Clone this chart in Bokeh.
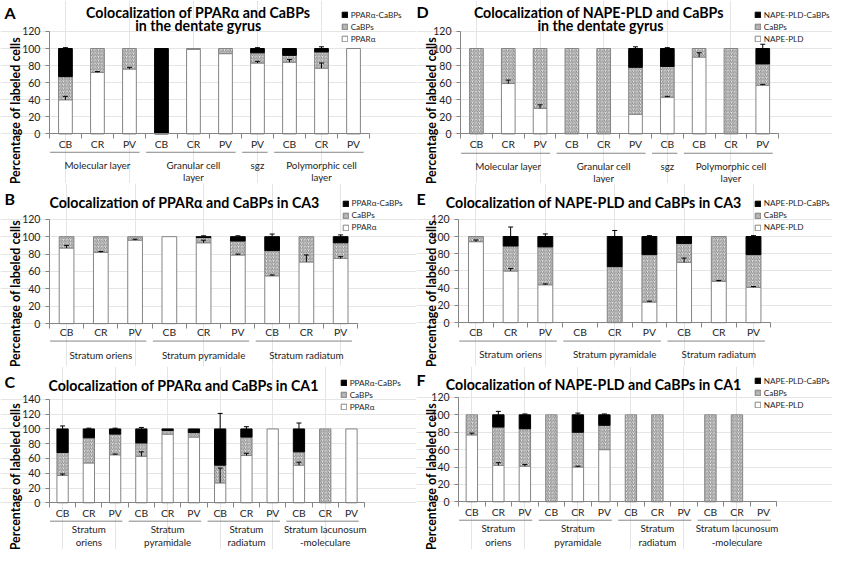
import numpy as np
from bokeh.plotting import figure
from bokeh.models import (Range1d, LinearAxis, FixedTicker, ColumnDataSource, Whisker,
                          TeeHead, Legend, LegendItem, CDSView, BooleanFilter)
from bokeh.layouts import column, row
from bokeh.embed import file_html
from bokeh.resources import INLINE
from bokeh.core.properties import value

# ---------------- data ----------------
DG_groups = ["Molecular layer", "Granular cell\nlayer", "sgz", "Polymorphic cell\nlayer"]
DG_sizes = [3, 3, 1, 3]
CA3_groups = ["Stratum oriens", "Stratum pyramidale", "Stratum radiatum"]
CA3_sizes = [3, 3, 3]
CA1_groups = ["Stratum\noriens", "Stratum\npyramidale", "Stratum\nradiatum", "Stratum lacunosum\n-moleculare"]
CA1_sizes = [3, 3, 3, 3]

PPAR_labels = ["PPARα-CaBPs", "CaBPs", "PPARα"]
NAPE_labels = ["NAPE-PLD-CaBPs", "CaBPs", "NAPE-PLD"]

A_cats = ["CB", "CR", "PV", "CB", "CR", "PV", "PV", "CB", "CR", "PV"]
A_white = [40, 72, 76, 0, 99, 94, 83, 84, 77, 100]
A_cabp = [27, 28, 24, 0, 1, 6, 12, 8, 19, 0]
A_coloc = [33, 0, 0, 100, 0, 0, 5, 8, 4, 0]
A_err_white = [4, 1, 2, 0, 0, 0, 2, 3, 6, 0]
A_err_cabp = [5, 0, 0, 0, 0, 0, 1, 4, 0, 0]
A_err_coloc = [1, 0, 0, 0, 0, 0, 1, 0, 2, 0]

B_cats = ["CB", "CR", "PV", "CB", "CR", "PV", "CB", "CR", "PV"]
B_white = [87, 82, 96, 100, 93, 79, 55, 71, 75]
B_cabp = [13, 18, 4, 0, 6, 16, 29, 29, 18]
B_coloc = [0, 0, 0, 0, 1, 5, 16, 0, 7]
B_err_white = [3, 1, 1, 0, 3, 1, 1, 8, 2]
B_err_cabp = [0, 0, 0, 0, 0, 0, 5, 0, 0]
B_err_coloc = [0, 0, 0, 0, 1, 1, 3, 0, 2]

C_cats = ["CB", "CR", "PV", "CB", "CR", "PV", "CB", "CR", "PV", "CB", "CR", "PV"]
C_white = [37, 54, 65, 63, 93, 89, 27, 64, 100, 51, 0, 100]
C_cabp = [31, 34, 28, 18, 5, 6, 24, 25, 0, 18, 100, 0]
C_coloc = [32, 12, 7, 19, 2, 5, 49, 11, 0, 31, 0, 0]
C_err_white = [2, 0, 1, 6, 0, 0, 20, 3, 0, 4, 0, 0]
C_err_cabp = [4, 2, 3, 8, 1, 1, 3, 1, 0, 5, 0, 0]
C_err_coloc = [4, 1, 1, 2, 0, 0, 21, 3, 0, 8, 0, 0]

D_cats = ["CB", "CR", "PV", "CB", "CR", "PV", "CB", "CB", "CR", "PV"]
D_white = [0, 59, 30, 0, 0, 23, 43, 90, 0, 57]
D_cabp = [100, 41, 70, 100, 100, 55, 36, 10, 100, 25]
D_coloc = [0, 0, 0, 0, 0, 22, 21, 0, 0, 18]
D_err_white = [0, 4, 4, 0, 0, 0, 1, 5, 0, 1]
D_err_cabp = [0, 0, 0, 0, 0, 3, 2, 0, 0, 4]
D_err_coloc = [0, 0, 0, 0, 0, 2, 1, 0, 0, 5]

E_cats = ["CB", "CR", "PV", "CB", "CR", "PV", "CB", "CR", "PV"]
E_white = [94, 60, 44, 0, 0, 24, 70, 48, 41]
E_cabp = [6, 29, 44, 0, 65, 55, 22, 52, 38]
E_coloc = [0, 11, 12, 0, 35, 21, 8, 0, 21]
E_err_white = [2, 3, 1, 0, 0, 1, 5, 1, 1]
E_err_cabp = [0, 8, 1, 0, 4, 2, 5, 0, 3]
E_err_coloc = [0, 11, 3, 0, 7, 1, 0, 0, 1]

F_cats = ["CB", "CR", "PV", "CB", "CR", "PV", "CB", "CR", "PV", "CB", "CR", "PV"]
F_white = [77, 42, 41, 0, 40, 60, 0, 0, 0, 0, 0, 0]
F_cabp = [23, 44, 43, 100, 40, 28, 100, 100, 0, 100, 100, 0]
F_coloc = [0, 14, 16, 0, 20, 12, 0, 0, 0, 0, 0, 0]
F_err_white = [2, 3, 2, 0, 1, 0, 0, 0, 0, 0, 0, 0]
F_err_cabp = [0, 1, 1, 0, 4, 1, 0, 0, 0, 0, 0, 0]
F_err_coloc = [0, 4, 1, 0, 2, 1, 0, 0, 0, 0, 0, 0]

# ---------------- style / layout ----------------
W, H = 416, 183
SX = W / 425.0
SY = H / 189.3
FONT = "Lato"
GRAY = "#858585"
TXT = "#1e1e1e"


def make_panel(letter, title, spec, cats, groups, sizes, white, cabp, coloc,
               ew, ec, eb, labels):
    n = len(cats)
    ax0 = spec["ax0"] * SX
    ax1 = spec["ax1"] * SX
    sxu = (ax1 - ax0) / n
    x0 = -0.5 - ax0 / sxu
    x1 = x0 + W / sxu
    top = spec["top"] * SY
    zero = spec["zero"] * SY
    ymax = spec["ymax"]
    syu = (zero - top) / ymax
    y1 = ymax + top / syu
    y0 = y1 - H / syu

    def fx(px):
        return x0 + px * SX / sxu

    def fy(py):
        return y1 - py * SY / syu

    p = figure(width=W, height=H, x_range=Range1d(x0, x1), y_range=Range1d(y0, y1),
               toolbar_location=None, output_backend="svg",
               x_axis_location=None, y_axis_location=None,
               min_border=0, outline_line_color=None)
    p.title.visible = False

    x = np.arange(n)
    w = np.array(white, float)
    c = np.array(cabp, float)
    b = np.array(coloc, float)
    src = ColumnDataSource(dict(x=x, z=np.zeros(n), w1=w, c1=w + c, b1=w + c + b))
    bw = 0.43
    r_white = p.vbar(x="x", bottom="z", top="w1", width=bw, source=src,
                     view=CDSView(filter=BooleanFilter(list(w > 0))),
                     fill_color="white", line_color=GRAY, line_width=1)
    r_cabp = p.vbar(x="x", bottom="w1", top="c1", width=bw, source=src,
                    view=CDSView(filter=BooleanFilter(list(c > 0))),
                    fill_color="#e6e6e6", line_color=GRAY, line_width=1,
                    hatch_pattern="right_diagonal_line", hatch_color="#808080",
                    hatch_scale=3.5, hatch_weight=0.9)
    r_coloc = p.vbar(x="x", bottom="c1", top="b1", width=bw, source=src,
                     view=CDSView(filter=BooleanFilter(list(b > 0))),
                     fill_color="black", line_color="black", line_width=1)

    # error bars (upper only)
    ex, elo, ehi = [], [], []
    for tops, errs in ((w, ew), (w + c, ec), (w + c + b, eb)):
        for i in range(n):
            if errs[i] > 0:
                ex.append(i)
                elo.append(tops[i])
                ehi.append(tops[i] + errs[i])
    esrc = ColumnDataSource(dict(x=ex, lo=elo, hi=ehi))
    p.add_layout(Whisker(source=esrc, base="x", lower="lo", upper="hi",
                         dimension="height", line_color="black", line_width=1,
                         lower_head=None, level="overlay",
                         upper_head=TeeHead(size=5, line_color="black", line_width=1)))

    # axes
    yax = LinearAxis(fixed_location=-0.5, bounds=(0, ymax),
                     ticker=FixedTicker(ticks=list(range(0, ymax + 1, 20))),
                     axis_line_color=GRAY, major_tick_line_color=GRAY,
                     major_tick_out=4, major_tick_in=0, minor_tick_line_color=None,
                     major_label_standoff=5,
                     major_label_text_font=FONT, major_label_text_font_size="10.5px",
                     major_label_text_color=TXT)
    p.add_layout(yax, "left")
    # category boundaries drawn as (label-less) minor ticks
    xax = LinearAxis(fixed_location=0, bounds=(-0.5, n - 0.5),
                     ticker=FixedTicker(ticks=[], minor_ticks=list(np.arange(n + 1) - 0.5)),
                     axis_line_color=GRAY, major_tick_line_color=None,
                     minor_tick_out=5, minor_tick_in=0, minor_tick_line_color=GRAY)
    p.add_layout(xax, "below")

    # category labels
    p.text(x=list(x), y=[fy(spec["cat"] - 2)] * n, text=cats,
           text_font=value(FONT), text_font_size="10.3px", text_color=TXT,
           text_align="center", text_baseline="middle")

    # group separators and labels (one text per line)
    sz = np.array(sizes)
    starts = np.cumsum(sz) - sz
    gap = 6 * SX / sxu
    ys = fy(spec["sep"])
    p.segment(x0=list(starts - 0.5 + 0.02), y0=[ys] * len(sz),
              x1=list(starts + sz - 0.5 - gap), y1=[ys] * len(sz),
              line_color=GRAY, line_width=1)
    gx, gy, gt = [], [], []
    for k, g in enumerate(groups):
        for j, line in enumerate(g.split("\n")):
            gx.append(starts[k] + (sz[k] - 1) / 2.0)
            gy.append(fy(spec["g1"] + j * spec["gdy"]))
            gt.append(line)
    p.text(x=gx, y=gy, text=gt,
           text_font=value(FONT), text_font_size="9.8px", text_color=TXT,
           text_align="center", text_baseline="middle")

    # title (one text per line), letter, y label
    tl = title.split("\n")
    p.text(x=[fx(spec["tcx"])] * len(tl), y=[fy(spec["tcy"] + j * 13.5) for j in range(len(tl))],
           text=tl, text_font=value(FONT), text_font_size="14.2px", text_font_style="bold",
           text_color="black", text_align="center", text_baseline="middle")
    p.text(x=[fx(spec["lx"])], y=[fy(spec["ly"])], text=[letter],
           text_font=value(FONT), text_font_size="16px", text_font_style="bold",
           text_color="black", text_align="left", text_baseline="middle")
    p.text(x=[fx(15)], y=[fy(114)], text=["Percentage of labeled cells"], angle=np.pi / 2,
           text_font=value(FONT), text_font_size="12.5px", text_font_style="bold",
           text_color="black", text_align="center", text_baseline="middle")

    # legend
    leg_h = 3 * 11 + 2 * 1
    legend = Legend(items=[LegendItem(label=labels[0], renderers=[r_coloc]),
                           LegendItem(label=labels[1], renderers=[r_cabp]),
                           LegendItem(label=labels[2], renderers=[r_white])],
                    location=(spec["legx"] * SX, H - spec["legy"] * SY - leg_h),
                    glyph_width=7, glyph_height=7, label_height=11, spacing=1,
                    label_standoff=3, padding=0, margin=0,
                    border_line_color=None, background_fill_alpha=0,
                    label_text_font=FONT, label_text_font_size="8.2px",
                    label_text_color=TXT)
    p.add_layout(legend)
    return p


specA = dict(ax0=50, ax1=377, top=32, zero=138, ymax=120, cat=150, sep=157, g1=170, gdy=13,
             tcx=202, tcy=12, lx=4, ly=12, legx=348, legy=9.5)
specB = dict(ax0=50, ax1=365, top=37, zero=145, ymax=120, cat=156, sep=163, g1=177, gdy=13,
             tcx=188, tcy=20, lx=4, ly=16, legx=349, legy=15)
specC = dict(ax0=50, ax1=372, top=34, zero=141, ymax=140, cat=154, sep=160, g1=168, gdy=14,
             tcx=187, tcy=19.5, lx=4, ly=16, legx=347, legy=11.5)
specD = dict(ax0=45, ax1=370, top=32, zero=138, ymax=120, cat=150, sep=158, g1=171, gdy=12.5,
             tcx=188, tcy=12.5, lx=0, ly=11, legx=345, legy=9.5)
specE = dict(ax0=43, ax1=362, top=37, zero=144, ymax=120, cat=156, sep=163, g1=176, gdy=13,
             tcx=181, tcy=20, lx=0, ly=15, legx=345, legy=15.5)
specF = dict(ax0=43, ax1=368, top=32, zero=140, ymax=120, cat=152, sep=159, g1=167, gdy=14.5,
             tcx=181, tcy=18.5, lx=0, ly=13, legx=345, legy=9.5)

pA = make_panel("A", "Colocalization of PPARα and CaBPs\nin the dentate gyrus", specA,
                A_cats, DG_groups, DG_sizes, A_white, A_cabp, A_coloc,
                A_err_white, A_err_cabp, A_err_coloc, PPAR_labels)
pB = make_panel("B", "Colocalization of PPARα and CaBPs in CA3", specB,
                B_cats, CA3_groups, CA3_sizes, B_white, B_cabp, B_coloc,
                B_err_white, B_err_cabp, B_err_coloc, PPAR_labels)
pC = make_panel("C", "Colocalization of PPARα and CaBPs in CA1", specC,
                C_cats, CA1_groups, CA1_sizes, C_white, C_cabp, C_coloc,
                C_err_white, C_err_cabp, C_err_coloc, PPAR_labels)
pD = make_panel("D", "Colocalization of NAPE-PLD and  CaBPs\nin the dentate gyrus", specD,
                D_cats, DG_groups, DG_sizes, D_white, D_cabp, D_coloc,
                D_err_white, D_err_cabp, D_err_coloc, NAPE_labels)
pE = make_panel("E", "Colocalization of NAPE-PLD and CaBPs in CA3", specE,
                E_cats, CA3_groups, CA3_sizes, E_white, E_cabp, E_coloc,
                E_err_white, E_err_cabp, E_err_coloc, NAPE_labels)
pF = make_panel("F", "Colocalization of NAPE-PLD and CaBPs in CA1", specF,
                F_cats, CA1_groups, CA1_sizes, F_white, F_cabp, F_coloc,
                F_err_white, F_err_cabp, F_err_coloc, NAPE_labels)

layout = column(row(pA, pD), row(pB, pE), row(pC, pF))
open("out.html", "w").write(file_html(layout, INLINE))
